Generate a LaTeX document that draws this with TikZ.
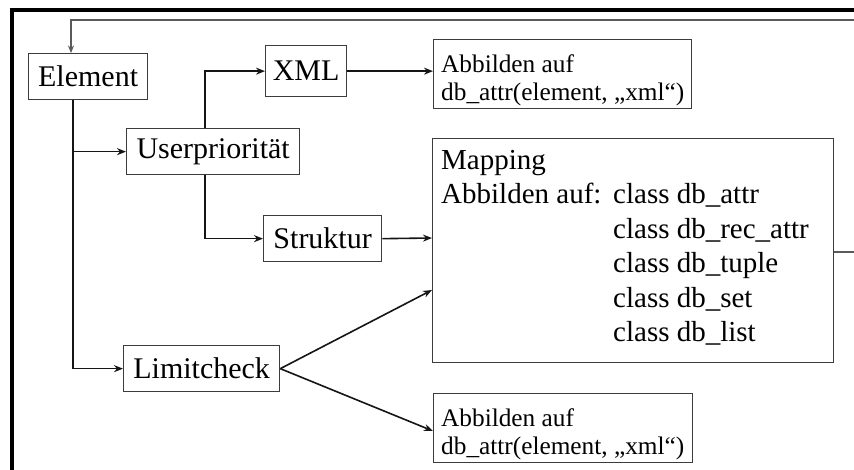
\documentclass[tikz,border=0pt]{standalone}
\usepackage{fontspec}
\setmainfont{Liberation Serif}
\usetikzlibrary{arrows.meta}
\definecolor{boxline}{HTML}{3C3C3C}
\definecolor{wire}{HTML}{151515}
\definecolor{loopline}{HTML}{5A5A5A}
\begin{document}
\begin{tikzpicture}[x=1pt,y=-1pt,
  steptext/.style={font=\fontsize{30}{34.5}\selectfont},
  bigtext/.style={font=\fontsize{29}{34.5}\selectfont},
  smalltext/.style={font=\fontsize{25.3}{29}\selectfont},
  box/.style={draw=boxline, line width=1.3pt, rectangle, inner sep=0pt, anchor=north west},
  label/.style={bigtext, anchor=base west, inner sep=0pt},
  smalllabel/.style={smalltext, anchor=base west, inner sep=0pt},
  conn/.style={draw=wire, line width=1.6pt, -{Stealth[length=9pt,width=7pt]}},
  loop/.style={draw=loopline, line width=1.1pt, -{Stealth[length=7.5pt,width=6pt]}},
  frame/.style={draw=black, line width=3.4pt}
]
\useasboundingbox (0,0) rectangle (854,469);

% outer frame (top and left edges)
\draw[frame] (12,480) -- (12,10) -- (870,10);

% processing steps
\node[box, steptext, minimum width=119pt, minimum height=46pt] (element) at (28,53) {Element};
\node[box, steptext, minimum width=81pt, minimum height=51pt] (xml) at (265,45) {XML};
\node[box, steptext, minimum width=173pt, minimum height=46pt] (user) at (126,128) {Userpriorität};
\node[box, steptext, minimum width=118pt, minimum height=46pt] (struktur) at (263,215) {Struktur};
\node[box, steptext, minimum width=156pt, minimum height=46pt] (limit) at (123,345) {Limitcheck};

% results
\node[box, minimum width=258pt, minimum height=69pt] (abbxml) at (433,39) {};
\node[smalllabel] (abbxml1) at (441,72.5) {Abbilden auf};
\node[smalllabel] (abbxml2) at (441,100) {db\_attr(element, „xml“)};

\node[box, minimum width=259pt, minimum height=69pt] (abblim) at (433,393) {};
\node[smalllabel] (abblim1) at (441,426.5) {Abbilden auf};
\node[smalllabel] (abblim2) at (441,454) {db\_attr(element, „xml“)};

\node[box, minimum width=401pt, minimum height=224pt] (mapping) at (432,138) {};

% mapping box content
\node[label] (mtitle) at (441,169) {Mapping};
\node[label] (mabb) at (441,203.5) {Abbilden auf:};
\node[label] (c1) at (613,203.5) {class db\_attr};
\node[label] (c2) at (613,238) {class db\_rec\_attr};
\node[label] (c3) at (613,272.5) {class db\_tuple};
\node[label] (c4) at (613,307) {class db\_set};
\node[label] (c5) at (613,341.5) {class db\_list};

% connectors
\coordinate (trunk) at (73,0);
\coordinate (ufork) at (205,0);
\coordinate (mapStruct) at (432,238);
\coordinate (mapLimit) at (432,290);
\coordinate (limOut) at (433,431);
\draw[conn] (element.south -| trunk) |- (user.west);
\draw[conn] (element.south -| trunk) |- (limit.west);
\draw[conn] (user.north -| ufork) |- (xml.west);
\draw[conn] (user.south -| ufork) |- (struktur.west);
\draw[conn] (xml.east) -- (abbxml.west |- xml.east);
\draw[conn] (struktur.east) -- (mapStruct);
\draw[conn] (limit.east) -- (mapLimit);
\draw[conn] (limit.east) -- (limOut);

% feedback loop back to the first step
\coordinate (loopR) at (870,252);
\coordinate (loopT) at (870,20);
\coordinate (loopL) at (71,20);
\draw[loop] (mapping.east |- loopR) -- (loopR) -- (loopT) -- (loopL) -- (loopL |- element.north);
\end{tikzpicture}
\end{document}
